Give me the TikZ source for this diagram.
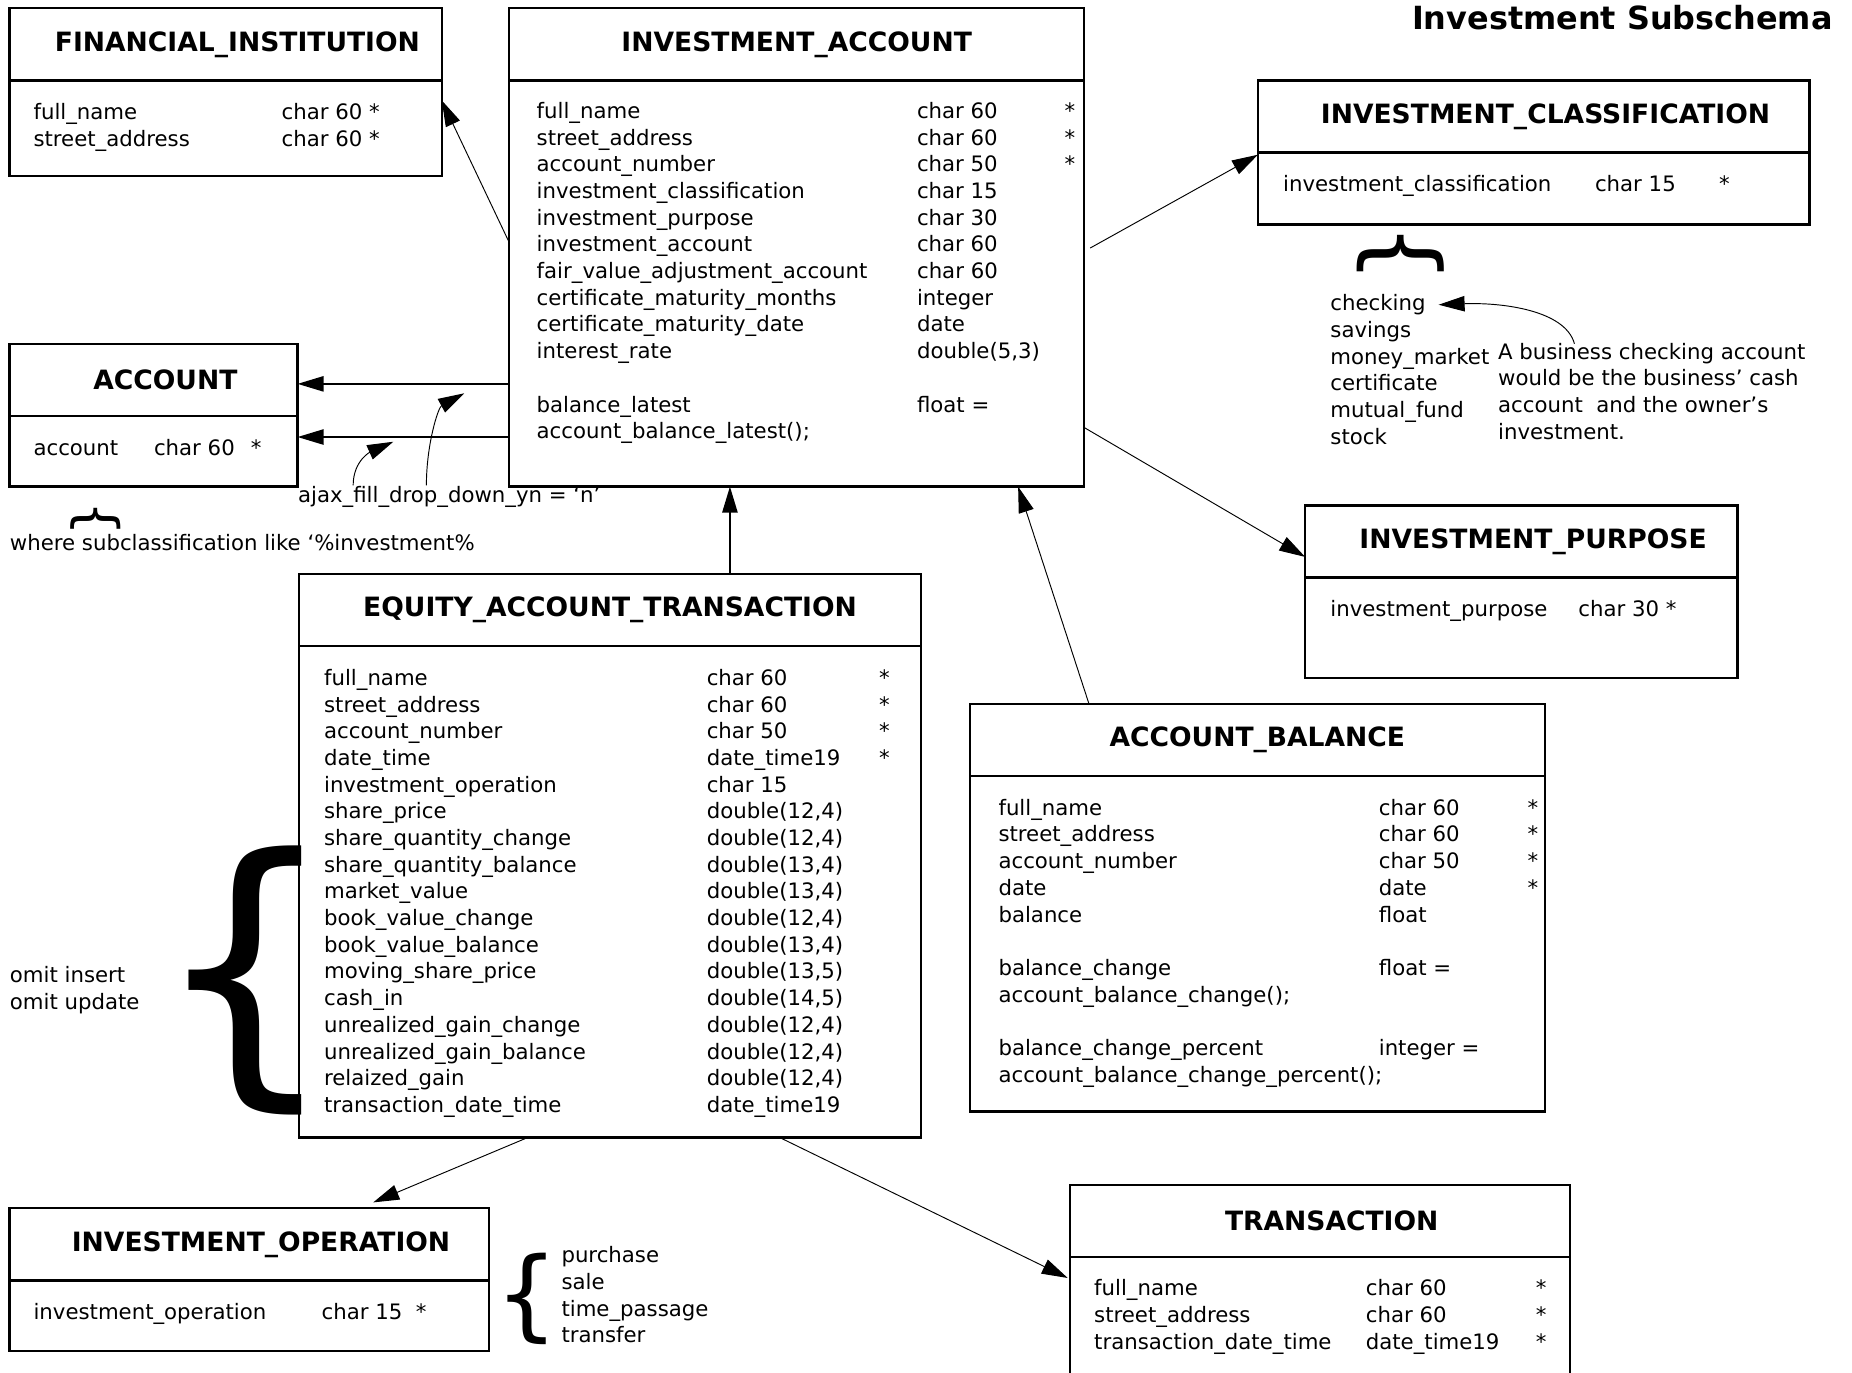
\documentclass[tikz,border=0pt]{standalone}
\usepackage{fontspec}
\setmainfont{DejaVu Sans}
\usetikzlibrary{arrows.meta,positioning}

\newcommand{\bodyfont}{\fontsize{9}{11.3}\selectfont}
\newcommand{\headfont}{\fontsize{11.25}{13.5}\selectfont\bfseries}
\newcommand{\schemafont}{\fontsize{13.5}{16}\selectfont\bfseries}
\newcommand{\bracefont}[1]{\fontsize{#1}{#1}\selectfont}
\newcommand{\bracechar}{\makebox[0pt]{\{}}

\begin{document}
\begin{tikzpicture}[x=0.5pt,y=-0.5pt,
  tblhead/.style={draw,line width=1pt,inner sep=0pt,outer sep=0pt,minimum height=30.5pt,font=\headfont},
  padhead/.style={execute at begin node={\hspace*{10pt}}},
  tblbody/.style={draw,line width=1pt,inner sep=0pt,outer sep=0pt},
  fields/.style={inner sep=0pt,font=\bodyfont},
  txt/.style={anchor=north west,inner sep=0pt,font=\bodyfont,align=left},
  link/.style={-{Triangle[length=11pt,width=6.5pt]},line width=0.4pt},
  hlink/.style={link,line width=0.6pt},
  glyph/.style={inner sep=0pt}]
\useasboundingbox (0,0) rectangle (1568,1162);

\node[anchor=north east,inner sep=0pt,font=\schemafont] (schema) at (1552,4) {Investment Subschema};

% financial institution
\node[tblhead,padhead,minimum width=183pt,anchor=north west] (fih) at (8,7) {FINANCIAL\_INSTITUTION};
\node[tblbody,minimum width=183pt,minimum height=40.5pt,below=0pt of fih] (fib) {};
\node[fields,below right=8.5pt and 10pt of fib.north west] (fif) {%
  \begin{tabular}{@{}p{105pt}@{}l@{}}
  full\_name & char 60 * \\
  street\_address & char 60 *
  \end{tabular}};

% investment account
\node[tblhead,minimum width=243.5pt,anchor=north west] (iah) at (431,7) {INVESTMENT\_ACCOUNT};
\node[tblbody,minimum width=243.5pt,minimum height=172pt,below=0pt of iah] (iab) {};
\node[fields,below right=8pt and 11.5pt of iab.north west] (iaf) {%
  \begin{tabular}{@{}p{161pt}@{}p{62.5pt}@{}l@{}}
  full\_name & char 60 & * \\
  street\_address & char 60 & * \\
  account\_number & char 50 & * \\
  investment\_classification & char 15 & \\
  investment\_purpose & char 30 & \\
  investment\_account & char 60 & \\
  fair\_value\_adjustment\_account & char 60 & \\
  certificate\_maturity\_months & integer & \\
  certificate\_maturity\_date & date & \\
  interest\_rate & double(5,3) & \\
  & & \\
  balance\_latest & float = & \\
  \multicolumn{3}{@{}l}{account\_balance\_latest();}
  \end{tabular}};

% investment classification
\node[tblhead,padhead,minimum width=233.5pt,anchor=north west] (ich) at (1065,68) {INVESTMENT\_CLASSIFICATION};
\node[tblbody,minimum width=233.5pt,minimum height=30.5pt,below=0pt of ich] (icb) {};
\node[fields,below right=8.5pt and 10.5pt of icb.north west] (icf) {%
  \begin{tabular}{@{}p{132pt}@{}p{52.5pt}@{}l@{}}
  investment\_classification & char 15 & *
  \end{tabular}};
\node[glyph,font=\bracefont{40},rotate=-90] (clsbrace) at (1186,215) {\bracechar};
\node[txt] (clsvals) at (1126,249) {checking\\savings\\money\_market\\certificate\\mutual\_fund\\stock};
\node[txt] (clsnote) at (1268,290) {A business checking account\\would be the business’ cash\\account\ \ and the owner’s\\investment.};

% account
\node[tblhead,padhead,minimum width=122pt,anchor=north west] (acch) at (8,291) {ACCOUNT};
\node[tblbody,minimum width=122pt,minimum height=30pt,below=0pt of acch] (accb) {};
\node[fields,below right=8.5pt and 10pt of accb.north west] (accf) {%
  \begin{tabular}{@{}p{51pt}@{}p{41pt}@{}l@{}}
  account & char 60 & *
  \end{tabular}};
\node[glyph,font=\bracefont{23},rotate=-90] (accbrace) at (81,439) {\bracechar};
\node[txt] (subcls) at (8,452) {where subclassification like ‘\%investment\%};
\node[txt] (ajax) at (252,411) {ajax\_fill\_drop\_down\_yn = ‘n’};
\coordinate (ajaxtipa) at (333,374);
\coordinate (ajaxtipb) at (393,333);

% investment purpose
\node[tblhead,padhead,minimum width=183pt,anchor=north west] (iph) at (1105,428) {INVESTMENT\_PURPOSE};
\node[tblbody,minimum width=183pt,minimum height=42.5pt,below=0pt of iph] (ipb) {};
\node[fields,below right=8.5pt and 10.5pt of ipb.north west] (ipf) {%
  \begin{tabular}{@{}p{105pt}@{}l@{}}
  investment\_purpose & char 30 *
  \end{tabular}};

% equity account transaction
\node[tblhead,minimum width=263.5pt,anchor=north west] (eath) at (253,486) {EQUITY\_ACCOUNT\_TRANSACTION};
\node[tblbody,minimum width=263.5pt,minimum height=208pt,below=0pt of eath] (eatb) {};
\node[fields,below right=8.5pt and 10.5pt of eatb.north west] (eatf) {%
  \begin{tabular}{@{}p{162pt}@{}p{73pt}@{}l@{}}
  full\_name & char 60 & * \\
  street\_address & char 60 & * \\
  account\_number & char 50 & * \\
  date\_time & date\_time19 & * \\
  investment\_operation & char 15 & \\
  share\_price & double(12,4) & \\
  share\_quantity\_change & double(12,4) & \\
  share\_quantity\_balance & double(13,4) & \\
  market\_value & double(13,4) & \\
  book\_value\_change & double(12,4) & \\
  book\_value\_balance & double(13,4) & \\
  moving\_share\_price & double(13,5) & \\
  cash\_in & double(14,5) & \\
  unrealized\_gain\_change & double(12,4) & \\
  unrealized\_gain\_balance & double(12,4) & \\
  relaized\_gain & double(12,4) & \\
  transaction\_date\_time & date\_time19 &
  \end{tabular}};
\node[glyph,font=\bracefont{123.5}] (omitbrace) at (207.5,830) {\bracechar};
\node[txt] (omit) at (8,818) {omit insert\\omit update};

% account balance
\node[tblhead,minimum width=243.5pt,anchor=north west] (abh) at (821,596) {ACCOUNT\_BALANCE};
\node[tblbody,minimum width=243.5pt,minimum height=142pt,below=0pt of abh] (abb) {};
\node[fields,below right=8.5pt and 12pt of abb.north west] (abf) {%
  \begin{tabular}{@{}p{161pt}@{}p{63pt}@{}l@{}}
  full\_name & char 60 & * \\
  street\_address & char 60 & * \\
  account\_number & char 50 & * \\
  date & date & * \\
  balance & float & \\
  & & \\
  balance\_change & float = & \\
  \multicolumn{3}{@{}l}{account\_balance\_change();} \\
  & & \\
  balance\_change\_percent & integer = & \\
  \multicolumn{3}{@{}l}{account\_balance\_change\_percent();}
  \end{tabular}};

% investment operation
\node[tblhead,padhead,minimum width=203pt,anchor=north west] (ioh) at (8,1023) {INVESTMENT\_OPERATION};
\node[tblbody,minimum width=203pt,minimum height=30pt,below=0pt of ioh] (iob) {};
\node[fields,below right=8.5pt and 10pt of iob.north west] (iof) {%
  \begin{tabular}{@{}p{122pt}@{}l@{}}
  investment\_operation & char 15\ \ *
  \end{tabular}};
\node[glyph,font=\bracefont{42}] (opbrace) at (446,1100) {\bracechar};
\node[txt] (opvals) at (475,1055) {purchase\\sale\\time\_passage\\transfer};

% transaction
\node[tblhead,padhead,minimum width=211.5pt,anchor=north west] (trh) at (906,1003) {TRANSACTION};
\node[tblbody,minimum width=211.5pt,minimum height=62pt,below=0pt of trh] (trb) {};
\node[fields,below right=8.5pt and 10pt of trb.north west] (trf) {%
  \begin{tabular}{@{}p{115pt}@{}p{72pt}@{}l@{}}
  full\_name & char 60 & * \\
  street\_address & char 60 & * \\
  transaction\_date\_time & date\_time19 & *
  \end{tabular}};

% connectors
\draw[link] ([yshift=17.5pt]iab.west) -- ([yshift=-8.5pt]fib.north east);
\draw[hlink] ([yshift=-42.5pt]iab.west) -- ([yshift=13.5pt]accb.north east);
\draw[hlink] ([yshift=-65pt]iab.west) -- ([yshift=-9pt]accb.north east);
\draw[link] ([xshift=2.5pt,yshift=15pt]iab.east) -- ([yshift=-1pt]icb.north west);
\draw[link] ([yshift=-61pt]iab.east) -- ([yshift=-6.5pt]iph.west);
\coordinate (eatup) at ([xshift=50.75pt]eath.north);
\draw[hlink] (eatup) -- (eatup |- iab.south);
\draw[link] ([xshift=-71.25pt]abh.north) -- ([xshift=93.75pt]iab.south);
\draw[link] ([xshift=-34.75pt]eatb.south) -- ([xshift=52.5pt,yshift=2.5pt]ioh.north);
\draw[link] ([xshift=71.75pt]eatb.south) -- ([xshift=-1pt,yshift=-9pt]trb.north west);
\draw[link] ([xshift=32.5pt,yshift=-0.5pt]clsnote.north west) .. controls +(-8,-29) and +(52,-2) .. ([xshift=46pt,yshift=-4.5pt]clsvals.north west);
\draw[link] ([xshift=23.5pt]ajax.north west) .. controls +(0,-22) and +(-18,8) .. (ajaxtipa);
\draw[link] ([xshift=54.5pt]ajax.north west) .. controls +(0,-35) and +(-22,12) .. (ajaxtipb);
\end{tikzpicture}
\end{document}
